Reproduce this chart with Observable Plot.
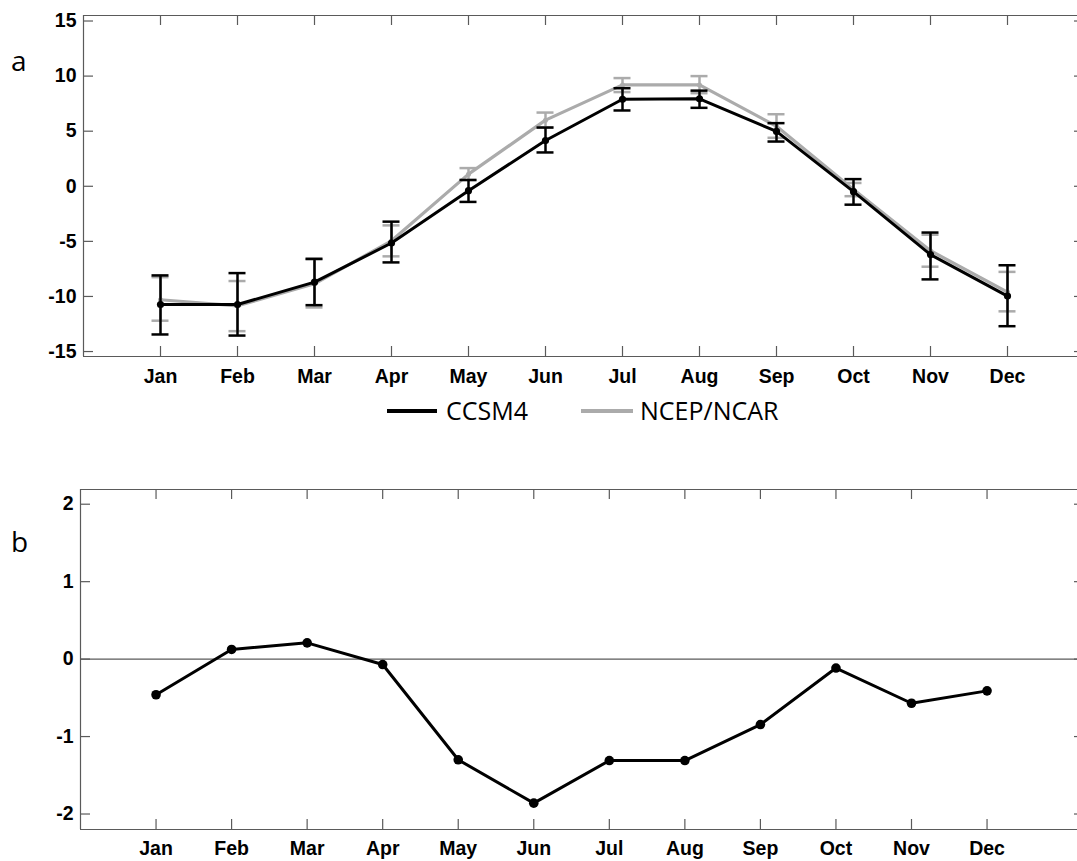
<!DOCTYPE html>
<html>
<head>
<meta charset="utf-8">
<script src="https://cdn.jsdelivr.net/npm/d3@7"></script>
<script src="https://cdn.jsdelivr.net/npm/@observablehq/plot@0.6"></script>
<style>
  html, body { margin: 0; padding: 0; background: #fff; overflow: hidden; }
  #wrap { position: relative; width: 1077px; height: 861px; overflow: hidden; background: #fff; }
  .panel { position: absolute; left: 0; }
  .panel svg { max-width: none !important; }
  .plabel { position: absolute; font-family: "Open Sans", sans-serif; font-size: 28px; color: #000; line-height: 1; }
  .leg { position: absolute; font-family: "Open Sans", sans-serif; font-size: 25px; color: #000; line-height: 1; white-space: nowrap; }
  .legline { position: absolute; height: 4px; }
</style>
</head>
<body>
<div id="wrap">
  <div class="panel" id="top" style="top:0px"></div>
  <div class="panel" id="bottom" style="top:440px"></div>
  <div class="plabel" style="left:11px; top:46px;">a</div>
  <div class="plabel" style="left:11px; top:527px;">b</div>
  <div class="legline" style="left:387px; top:409px; width:50px; background:#000;"></div>
  <div class="leg" style="left:446px; top:398px;">CCSM4</div>
  <div class="legline" style="left:581px; top:409px; width:52px; background:#ababab;"></div>
  <div class="leg" style="left:640px; top:398px;">NCEP/NCAR</div>
</div>
<script>
// ---- data ----
const months = ["Jan","Feb","Mar","Apr","May","Jun","Jul","Aug","Sep","Oct","Nov","Dec"];
const ccsm4     = [-10.73, -10.73, -8.70, -5.15, -0.40, 4.15, 7.90, 7.94, 4.98, -0.49, -6.20, -9.97];
const ccsm4Low  = [-13.45, -13.55, -10.79, -6.91, -1.42, 3.07, 6.88, 7.12, 4.06, -1.67, -8.45, -12.70];
const ccsm4High = [-8.09, -7.88, -6.58, -3.21, 0.57, 5.33, 8.90, 8.68, 5.73, 0.65, -4.20, -7.17];
const ncep      = [-10.30, -10.85, -8.85, -4.95, 1.10, 6.00, 9.20, 9.20, 5.45, -0.30, -5.85, -9.60];
const ncepLow   = [-12.20, -13.15, -11.00, -6.36, 0.57, 5.35, 8.55, 8.45, 4.40, -0.90, -7.30, -11.35];
const ncepHigh  = [-8.25, -8.60, -6.65, -3.55, 1.65, 6.69, 9.82, 10.00, 6.54, 0.30, -4.40, -7.77];
const diff      = [-0.46, 0.125, 0.21, -0.07, -1.30, -1.86, -1.31, -1.31, -0.845, -0.115, -0.57, -0.41];
const yTicksA = [-15, -10, -5, 0, 5, 10, 15];
const yTicksB = [-2, -1, 0, 1, 2];

// ---- tables ----
const mIdx = months.map((_, i) => i + 1);
const rowsC = months.map((m, i) => ({m: i + 1, v: ccsm4[i], lo: ccsm4Low[i], hi: ccsm4High[i]}));
const rowsN = months.map((m, i) => ({m: i + 1, v: ncep[i], lo: ncepLow[i], hi: ncepHigh[i]}));
const rowsD = months.map((m, i) => ({m: i + 1, v: diff[i]}));

const FRAME = "#5a5a5a";
const GREY = "#ababab";
const tickFont = {fontSize: 19.5, fontWeight: "bold", fontFamily: "'Liberation Sans', Arial, sans-serif", fill: "#000"};

// box (left, top, bottom; the right side lies beyond the cropped picture) plus inward ticks
function frameTicks(xDom, yDom, xt, yt, fw, fh) {
  return [
    Plot.ruleX([xDom[0]], {stroke: FRAME, strokeWidth: 1.2}),
    Plot.ruleY([yDom[0]], {stroke: FRAME, strokeWidth: 1.2}),
    Plot.ruleY([yDom[1]], {stroke: FRAME, strokeWidth: 1.2}),
    Plot.tickX(xt, {x: d => d, stroke: FRAME, strokeWidth: 1.2, insetBottom: fh - 10}),
    Plot.tickX(xt, {x: d => d, stroke: FRAME, strokeWidth: 1.2, insetTop: fh - 10}),
    Plot.tickY(yt, {y: d => d, stroke: FRAME, strokeWidth: 1.2, insetRight: fw - 10}),
    Plot.tickY(yt, {y: d => d, stroke: FRAME, strokeWidth: 1.2, insetLeft: fw - 10})
  ];
}

function errorBars(rows, color, w) {
  return [
    Plot.ruleX(rows, {x: "m", y1: "lo", y2: "hi", stroke: color, strokeWidth: w}),
    Plot.ruleY(rows, {y: "lo", x1: "m", x2: "m", insetLeft: -8.5, insetRight: -8.5, stroke: color, strokeWidth: w}),
    Plot.ruleY(rows, {y: "hi", x1: "m", x2: "m", insetLeft: -8.5, insetRight: -8.5, stroke: color, strokeWidth: w})
  ];
}

// ---- panel a ----
const W = 1090;
const topH = 395, topML = 83, topMR = 6, topMT = 15, topMB = 39;
const topFW = W - topML - topMR, topFH = topH - topMT - topMB;
const xDomA = [0, 13], yDomA = [-15.45, 15.5];
const plotA = Plot.plot({
  width: W, height: topH,
  marginLeft: topML, marginRight: topMR, marginTop: topMT, marginBottom: topMB,
  style: {background: "#fff", overflow: "visible", maxWidth: "none"},
  x: {type: "linear", domain: xDomA, label: null, axis: null},
  y: {domain: yDomA, label: null, axis: null},
  marks: [
    ...frameTicks(xDomA, yDomA, mIdx, yTicksA, topFW, topFH),
    Plot.axisX(mIdx, {tickSize: 0, tickPadding: 13, tickFormat: d => months[d - 1], label: null, ...tickFont}),
    Plot.axisY(yTicksA, {tickSize: 0, tickPadding: 7, tickFormat: d => String(d), label: null, ...tickFont}),
    ...errorBars(rowsN, GREY, 2.5),
    Plot.line(rowsN, {x: "m", y: "v", stroke: GREY, strokeWidth: 3.2}),
    Plot.dot(rowsN, {x: "m", y: "v", r: 2.5, fill: GREY}),
    ...errorBars(rowsC, "#000", 2.5),
    Plot.line(rowsC, {x: "m", y: "v", stroke: "#000", strokeWidth: 3}),
    Plot.dot(rowsC, {x: "m", y: "v", r: 3.6, fill: "#000"})
  ]
});
document.getElementById("top").appendChild(plotA);

// ---- panel b ----
const botH = 421, botML = 80, botMR = 6, botMT = 49, botMB = 32;
const botFW = W - botML - botMR, botFH = botH - botMT - botMB;
const xDomB = [0, 13.29], yDomB = [-2.2, 2.19];
const plotB = Plot.plot({
  width: W, height: botH,
  marginLeft: botML, marginRight: botMR, marginTop: botMT, marginBottom: botMB,
  style: {background: "#fff", overflow: "visible", maxWidth: "none"},
  x: {type: "linear", domain: xDomB, label: null, axis: null},
  y: {domain: yDomB, label: null, axis: null},
  marks: [
    ...frameTicks(xDomB, yDomB, mIdx, yTicksB, botFW, botFH),
    Plot.ruleY([0], {stroke: FRAME, strokeWidth: 1.2}),
    Plot.axisX(mIdx, {tickSize: 0, tickPadding: 12, tickFormat: d => months[d - 1], label: null, ...tickFont}),
    Plot.axisY(yTicksB, {tickSize: 0, tickPadding: 7, tickFormat: d => String(d), label: null, ...tickFont}),
    Plot.line(rowsD, {x: "m", y: "v", stroke: "#000", strokeWidth: 3}),
    Plot.dot(rowsD, {x: "m", y: "v", r: 4.8, fill: "#000"})
  ]
});
document.getElementById("bottom").appendChild(plotB);
</script>
</body>
</html>
